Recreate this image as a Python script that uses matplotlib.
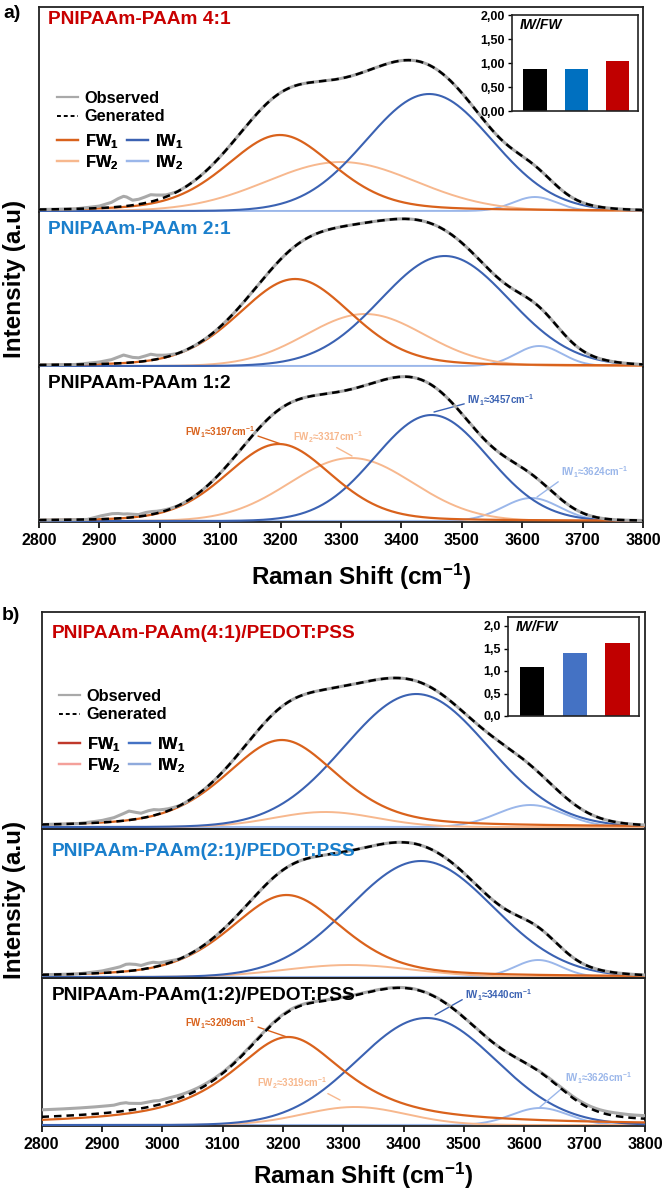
import numpy as np
import matplotlib
matplotlib.use("Agg")
import matplotlib.pyplot as plt
from matplotlib.lines import Line2D

plt.rcParams['font.family'] = ['Liberation Sans', 'DejaVu Sans']
plt.rcParams['font.weight'] = 'bold'
plt.rcParams['mathtext.fontset'] = 'custom'
plt.rcParams['mathtext.rm'] = 'Liberation Sans:bold'
plt.rcParams['mathtext.bf'] = 'Liberation Sans:bold'
plt.rcParams['mathtext.it'] = 'Liberation Sans:bold:italic'
plt.rcParams['mathtext.default'] = 'rm'

# ---------------- data ----------------
x_ticks = [2800, 2900, 3000, 3100, 3200, 3300, 3400, 3500, 3600, 3700, 3800]
comp_labels = ["FW$_1$", "FW$_2$", "IW$_1$", "IW$_2$"]

# component parameters: center (cm-1), height (a.u.), FWHM (cm-1), Lorentzian fraction
a1_center = [3199, 3300, 3446, 3621]
a1_height = [76, 49, 117, 14]
a1_fwhm = [210, 290, 245, 85]
a1_eta = [0.3, 0.0, 0.0, 0.0]

a2_center = [3224, 3340, 3472, 3628]
a2_height = [87, 52, 110, 20]
a2_fwhm = [220, 230, 250, 90]
a2_eta = [0.2, 0.0, 0.0, 0.0]

a3_center = [3197, 3317, 3450, 3615]
a3_height = [77, 63, 106, 23]
a3_fwhm = [205, 240, 220, 110]
a3_eta = [0.2, 0.0, 0.0, 0.0]

b1_center = [3198, 3270, 3421, 3610]
b1_height = [87, 15, 133, 22]
b1_fwhm = [220, 200, 280, 130]
b1_eta = [0.4, 0.0, 0.0, 0.0]

b2_center = [3206, 3310, 3429, 3623]
b2_height = [82, 12, 116, 17]
b2_fwhm = [220, 250, 280, 90]
b2_eta = [0.4, 0.0, 0.0, 0.0]

b3_center = [3209, 3319, 3438, 3626]
b3_height = [88, 18, 107, 17]
b3_fwhm = [230, 200, 270, 110]
b3_eta = [0.8, 0.0, 0.0, 0.0]

# constant background of the generated fit
gen_base = {"a1": 0, "a2": 0, "a3": 0, "b1": 0, "b2": 0, "b3": 3}

# observed minus generated
dev_x = [2800, 2860, 2880, 2900, 2920, 2930, 2940, 2945, 2955, 2965, 2975, 2985, 2995, 3010, 3030, 3060,
         3100, 3600, 3700, 3750, 3800]
a1_dev = [0, 0, 1, 2, 5, 8, 10, 9, 5, 5, 6, 7, 5, 2, 0, 0, 0, 0, 0, 0, 0]
a2_dev = [0, 0, 1, 2, 4, 6, 8, 7, 5, 4, 5, 6, 4, 2, 0, 0, 0, 0, 0, 0, 0]
a3_dev = [0, 0, 0, 3, 5, 5, 4, 4, 3, 2, 3, 3, 2, 1, 0, 0, 0, 0, 0, 0, 0]
b1_dev = [0, 0, 1, 2, 4, 6, 8, 9, 7, 5, 6, 6, 4, 2, 0, 0, 0, 0, 0, 0, 0]
b2_dev = [0, 0, 1, 2, 4, 5, 7, 7, 6, 4, 5, 5, 3, 2, 0, 0, 0, 0, 0, 0, 0]
b3_dev = [7, 7, 7, 7, 7, 8, 8, 7, 6, 5, 5, 5, 4, 4, 3, 2, 1, 0, 2, 3, 3]

titles_a = ["PNIPAAm-PAAm 4:1", "PNIPAAm-PAAm 2:1", "PNIPAAm-PAAm 1:2"]
titles_b = ["PNIPAAm-PAAm(4:1)/PEDOT:PSS", "PNIPAAm-PAAm(2:1)/PEDOT:PSS", "PNIPAAm-PAAm(1:2)/PEDOT:PSS"]

ratio_a = [0.87, 0.88, 1.04]
ratio_b = [1.09, 1.40, 1.62]
ratio_a_ticks = [0.0, 0.5, 1.0, 1.5, 2.0]
ratio_a_ticklabels = ["0,00", "0,50", "1,00", "1,50", "2,00"]
ratio_b_ticklabels = ["0,0", "0,5", "1,0", "1,5", "2,0"]

# ---------------- styles ----------------
W, H = 664, 1193
C_FW1 = "#D9621C"
C_FW2 = "#F7B88E"
C_IW1 = "#3B62B2"
C_IW2 = "#9BB7EA"
C_OBS = "#A9A9A9"
title_cols = ["#C80000", "#1A7FCC", "#000000"]
bar_cols_a = ["#000000", "#0070C0", "#C00000"]
bar_cols_b = ["#000000", "#4472C4", "#C00000"]

fig = plt.figure(figsize=(W / 100, H / 100), dpi=100)


def fx(px):
    return px / W


def fy(py):
    return 1 - py / H


def add_ax(left, top, right, bottom):
    return fig.add_axes([fx(left), fy(bottom), (right - left) / W, (bottom - top) / H])


def profile(x, c, h, w, eta):
    g = np.exp(-4 * np.log(2) * (x - c) ** 2 / w ** 2)
    lor = 1.0 / (1.0 + 4 * (x - c) ** 2 / w ** 2)
    return h * ((1 - eta) * g + eta * lor)


xs = np.linspace(2800, 3800, 1001)

panels = {
    "a1": (a1_center, a1_height, a1_fwhm, a1_eta, a1_dev),
    "a2": (a2_center, a2_height, a2_fwhm, a2_eta, a2_dev),
    "a3": (a3_center, a3_height, a3_fwhm, a3_eta, a3_dev),
    "b1": (b1_center, b1_height, b1_fwhm, b1_eta, b1_dev),
    "b2": (b2_center, b2_height, b2_fwhm, b2_eta, b2_dev),
    "b3": (b3_center, b3_height, b3_fwhm, b3_eta, b3_dev),
}

# pixel layout: (left, top, right, bottom, baseline_offset_px)
layout = {
    "a1": (39, 7, 643, 212, 1),
    "a2": (39, 212, 643, 367, 1),
    "a3": (39, 367, 643, 522, 1),
    "b1": (41.5, 612, 645, 829, 2),
    "b2": (41.5, 829, 645, 978, 1),
    "b3": (41.5, 978, 645, 1126, 1),
}

axes = {}
for key, (cen, hei, fw, eta, dev) in panels.items():
    l, t, r, b, off = layout[key]
    ax = add_ax(l, t, r, b)
    axes[key] = ax
    comps = [profile(xs, cen[i], hei[i], fw[i], eta[i]) for i in range(4)]
    gen = np.sum(comps, axis=0) + gen_base[key]
    obs = gen + np.interp(xs, dev_x, dev)
    ax.plot(xs, comps[3], color=C_IW2, lw=1.4, zorder=2)
    ax.plot(xs, comps[1], color=C_FW2, lw=1.4, zorder=2)
    ax.plot(xs, comps[2], color=C_IW1, lw=1.5, zorder=3)
    ax.plot(xs, comps[0], color=C_FW1, lw=1.6, zorder=3)
    ax.plot(xs, obs, color=C_OBS, lw=2.2, zorder=4)
    ax.plot(xs, gen, color="black", lw=1.8, ls=(0, (3, 2)), zorder=5)
    hpx = b - t
    ax.set_ylim(-off, hpx - off)
    ax.set_xlim(2800, 3800)
    ax.set_yticks([])
    for s in ax.spines.values():
        s.set_linewidth(1.3)
        s.set_color("#222222")
    if key in ("a3", "b3"):
        ax.set_xticks(x_ticks)
        ax.set_xticklabels([str(v) for v in x_ticks], fontsize=11.5, fontweight="bold")
        ax.tick_params(axis="x", direction="out", length=4, width=1.2, pad=4)
    else:
        ax.set_xticks([])
    if key[0] == "a":
        if key != "a1":
            ax.spines["top"].set_visible(False)
        if key != "a3":
            ax.spines["bottom"].set_visible(False)
    ax.patch.set_alpha(0)

# titles
for i, ypx in enumerate([20, 230, 384]):
    fig.text(fx(48), fy(ypx), titles_a[i], color=title_cols[i], fontsize=13.8, fontweight="bold",
             ha="left", va="center")
for i, ypx in enumerate([633, 852, 995]):
    fig.text(fx(52), fy(ypx), titles_b[i], color=title_cols[i], fontsize=13.8, fontweight="bold",
             ha="left", va="center")

# panel letters and axis labels
fig.text(fx(12), fy(13), "a)", fontsize=14, fontweight="bold", ha="center", va="center")
fig.text(fx(11), fy(616), "b)", fontsize=14, fontweight="bold", ha="center", va="center")
fig.text(fx(15), fy(279), "Intensity (a.u)", rotation=90, fontsize=17.5, fontweight="bold",
         ha="center", va="center")
fig.text(fx(15), fy(900), "Intensity (a.u)", rotation=90, fontsize=17.5, fontweight="bold",
         ha="center", va="center")
fig.text(fx(361), fy(577), "Raman Shift (cm$^{\\mathbf{-1}}$)", fontsize=17.5, fontweight="bold",
         ha="center", va="center")
fig.text(fx(363), fy(1176), "Raman Shift (cm$^{\\mathbf{-1}}$)", fontsize=17.5, fontweight="bold",
         ha="center", va="center")


# legends
def add_legends(ax, x_left, y_top1, y_top2, fw_cols):
    h1 = [Line2D([], [], color=C_OBS, lw=1.6), Line2D([], [], color="black", lw=1.4, ls=(0, (2, 1.5)))]
    leg1 = ax.legend(h1, ["Observed", "Generated"], loc="upper left",
                     bbox_to_anchor=(fx(x_left), fy(y_top1)), bbox_transform=fig.transFigure,
                     frameon=False, fontsize=11.8, borderpad=0, borderaxespad=0,
                     handlelength=1.3, handletextpad=0.4, labelspacing=0.2)
    ax.add_artist(leg1)
    h2 = [Line2D([], [], color=fw_cols[0], lw=1.6), Line2D([], [], color=fw_cols[1], lw=1.6),
          Line2D([], [], color=fw_cols[2], lw=1.6), Line2D([], [], color=fw_cols[3], lw=1.6)]
    leg2 = ax.legend(h2, comp_labels, loc="upper left", ncol=2,
                     bbox_to_anchor=(fx(x_left), fy(y_top2)), bbox_transform=fig.transFigure,
                     frameon=False, fontsize=11.8, borderpad=0, borderaxespad=0,
                     handlelength=1.3, handletextpad=0.4, labelspacing=0.15, columnspacing=0.5)
    ax.add_artist(leg2)


add_legends(axes["a1"], 57, 91, 132, [C_FW1, C_FW2, C_IW1, C_IW2])
add_legends(axes["b1"], 59, 689, 735, ["#C0392B", "#F4A09A", "#4472C4", "#8FAADC"])

# annotations
ann_fs = 7


def data_xy(key, px, py):
    l, t, r, b, off = layout[key]
    xv = 2800 + (px - l) / (r - l) * 1000
    yv = (b - py) - off
    return (xv, yv)


def annotate(key, text, color, tip_px, text_px, relpos):
    axes[key].annotate(text, xy=data_xy(key, *tip_px), xytext=data_xy(key, *text_px),
                       color=color, fontsize=ann_fs, ha="left", va="center",
                       arrowprops=dict(arrowstyle="-", color=color, lw=1.0, shrinkA=0, shrinkB=0,
                                       relpos=relpos))


annotate("a3", "FW$_1$≈3197cm$^{-1}$", C_FW1, (281, 444), (185, 432), (1, 0.3))
annotate("a3", "FW$_2$≈3317cm$^{-1}$", C_FW2, (352, 456), (293, 437), (0.55, 0))
annotate("a3", "IW$_1$≈3457cm$^{-1}$", C_IW1, (434, 412), (467, 400), (0, 0.3))
annotate("a3", "IW$_1$≈3624cm$^{-1}$", C_IW2, (537, 497), (561, 472), (0, 0))
annotate("b3", "FW$_1$≈3209cm$^{-1}$", C_FW1, (287, 1037), (185, 1023), (1, 0.3))
annotate("b3", "FW$_2$≈3319cm$^{-1}$", C_FW2, (340, 1100), (257, 1083), (0.85, 0.2))
annotate("b3", "IW$_1$≈3440cm$^{-1}$", C_IW1, (435, 1015), (465, 995), (0, 0.3))
annotate("b3", "IW$_1$≈3626cm$^{-1}$", C_IW2, (540, 1107), (565, 1078), (0, 0))


# insets
def inset(left, top, right, bottom, vals, cols, ylim_top, ticklabels):
    ia = add_ax(left, top, right, bottom)
    ia.bar(range(len(vals)), vals, width=0.57, color=cols, zorder=2)
    ia.set_xlim(-0.56, 2.5)
    ia.set_ylim(0, ylim_top)
    ia.set_xticks([])
    ia.set_yticks(ratio_a_ticks)
    ia.set_yticklabels(ticklabels, fontsize=9, fontweight="bold")
    ia.tick_params(axis="y", direction="out", length=3, width=1.0, pad=2)
    for s in ia.spines.values():
        s.set_linewidth(1.2)
        s.set_color("#222222")
    ia.text(0.06, 0.9, "IW/FW", transform=ia.transAxes, fontsize=10, fontweight="bold",
            fontstyle="italic", ha="left", va="center")
    return ia


inset(512, 15, 638, 111, ratio_a, bar_cols_a, 2.0, ratio_a_ticklabels)
inset(508, 617, 639, 716, ratio_b, bar_cols_b, 2.2, ratio_b_ticklabels)

fig.savefig("out.png", dpi=100)
